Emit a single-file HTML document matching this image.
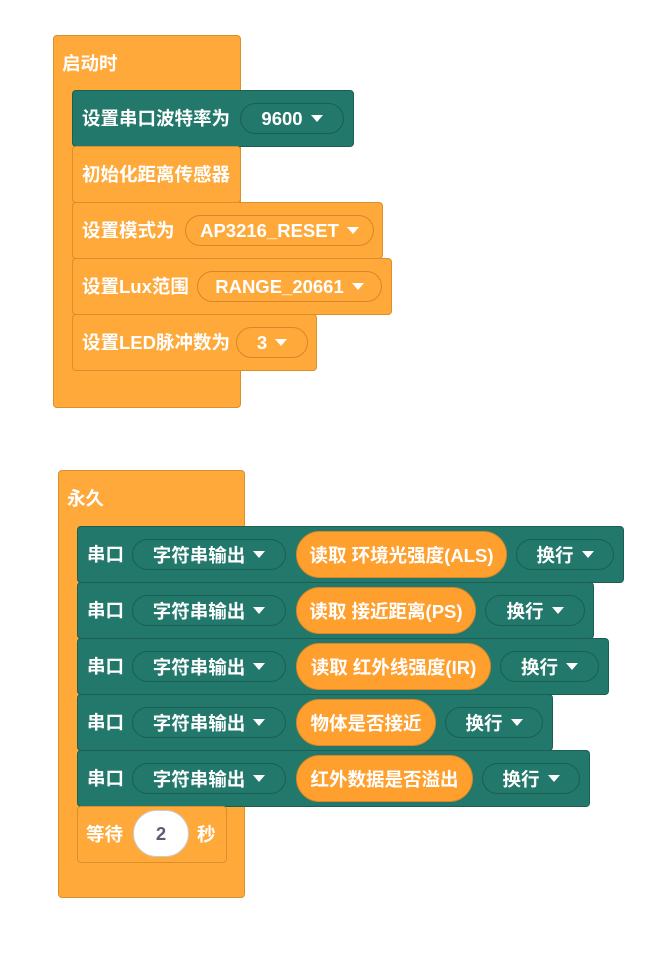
<!DOCTYPE html>
<html><head><meta charset="utf-8"><style>
body{margin:0;width:664px;height:964px;background:#fff;position:relative;overflow:hidden;font-family:"Liberation Sans","Noto Sans CJK SC",sans-serif;font-weight:bold;font-size:18.5px;color:#fff}
.b{position:absolute;box-sizing:border-box;border-radius:4px}
.o{background:#fea93a;border:1px solid #d9902c}
.t{background:#22786a;border:1px solid #1b5f54}
.l{position:absolute;white-space:nowrap;line-height:20px}
.p{position:absolute;box-sizing:border-box;border-radius:16px;border:1px solid #1a5f54;background:#22786a;display:flex;align-items:center;justify-content:center;white-space:nowrap}
.po{position:absolute;box-sizing:border-box;border-radius:24px;border:1px solid #d9862a;background:#fe9f2e;display:flex;align-items:center;justify-content:center;white-space:nowrap}
.pob{position:absolute;box-sizing:border-box;border-radius:16px;border:1px solid #d9862a;background:#fea93a;display:flex;align-items:center;justify-content:center;white-space:nowrap}
.ar{display:inline-block;width:0;height:0;border-left:6px solid transparent;border-right:6px solid transparent;border-top:7px solid #fff;margin-left:8px}
</style></head><body>
<div class="b o" style="left:53px;top:35px;width:188px;height:373px"></div>
<div class="l" style="left:62px;top:54px">启动时</div>

<div class="b t" style="left:72px;top:90px;width:282px;height:57px"></div>
<div class="l" style="left:82px;top:109px">设置串口波特率为</div>
<div class="p" style="left:240px;top:103px;width:104px;height:31px">9600<span class="ar"></span></div>

<div class="b o" style="left:72px;top:146px;width:169px;height:57px"></div>
<div class="l" style="left:82px;top:165px">初始化距离传感器</div>

<div class="b o" style="left:72px;top:202px;width:311px;height:57px"></div>
<div class="l" style="left:82px;top:221px">设置模式为</div>
<div class="pob" style="left:185px;top:215px;width:189px;height:31px">AP3216_RESET<span class="ar"></span></div>

<div class="b o" style="left:72px;top:258px;width:320px;height:57px"></div>
<div class="l" style="left:82px;top:277px">设置Lux范围</div>
<div class="pob" style="left:197px;top:271px;width:185px;height:31px">RANGE_20661<span class="ar"></span></div>

<div class="b o" style="left:72px;top:314px;width:245px;height:57px"></div>
<div class="l" style="left:82px;top:333px">设置LED脉冲数为</div>
<div class="pob" style="left:236px;top:327px;width:72px;height:31px">3<span class="ar"></span></div>

<div class="b o" style="left:58px;top:470px;width:187px;height:428px"></div>
<div class="l" style="left:67px;top:489px">永久</div>

<div class="b t" style="left:77px;top:526px;width:547px;height:57px"></div>
<div class="l" style="left:87px;top:545px">串口</div>
<div class="p" style="left:132px;top:539px;width:154px;height:31px">字符串输出<span class="ar"></span></div>
<div class="po" style="left:296px;top:531px;width:211px;height:47px">读取 环境光强度(ALS)</div>
<div class="p" style="left:516px;top:539px;width:98px;height:31px">换行<span class="ar"></span></div>

<div class="b t" style="left:77px;top:582px;width:517px;height:57px"></div>
<div class="l" style="left:87px;top:601px">串口</div>
<div class="p" style="left:132px;top:595px;width:154px;height:31px">字符串输出<span class="ar"></span></div>
<div class="po" style="left:296px;top:587px;width:180px;height:47px">读取 接近距离(PS)</div>
<div class="p" style="left:485px;top:595px;width:100px;height:31px">换行<span class="ar"></span></div>

<div class="b t" style="left:77px;top:638px;width:532px;height:57px"></div>
<div class="l" style="left:87px;top:657px">串口</div>
<div class="p" style="left:132px;top:651px;width:154px;height:31px">字符串输出<span class="ar"></span></div>
<div class="po" style="left:296px;top:643px;width:195px;height:47px">读取 红外线强度(IR)</div>
<div class="p" style="left:500px;top:651px;width:99px;height:31px">换行<span class="ar"></span></div>

<div class="b t" style="left:77px;top:694px;width:476px;height:57px"></div>
<div class="l" style="left:87px;top:713px">串口</div>
<div class="p" style="left:132px;top:707px;width:154px;height:31px">字符串输出<span class="ar"></span></div>
<div class="po" style="left:296px;top:699px;width:140px;height:47px">物体是否接近</div>
<div class="p" style="left:445px;top:707px;width:98px;height:31px">换行<span class="ar"></span></div>

<div class="b t" style="left:77px;top:750px;width:513px;height:57px"></div>
<div class="l" style="left:87px;top:769px">串口</div>
<div class="p" style="left:132px;top:763px;width:154px;height:31px">字符串输出<span class="ar"></span></div>
<div class="po" style="left:296px;top:755px;width:177px;height:47px">红外数据是否溢出</div>
<div class="p" style="left:482px;top:763px;width:98px;height:31px">换行<span class="ar"></span></div>

<div class="b o" style="left:77px;top:806px;width:150px;height:57px"></div>
<div class="l" style="left:86px;top:825px">等待</div>
<div style="position:absolute;left:133px;top:810px;width:56px;height:47px;border-radius:24px;background:#fff;border:1px solid #ccc;box-sizing:border-box;display:flex;align-items:center;justify-content:center;color:#575e75">2</div>
<div class="l" style="left:197px;top:825px">秒</div>
</body></html>
